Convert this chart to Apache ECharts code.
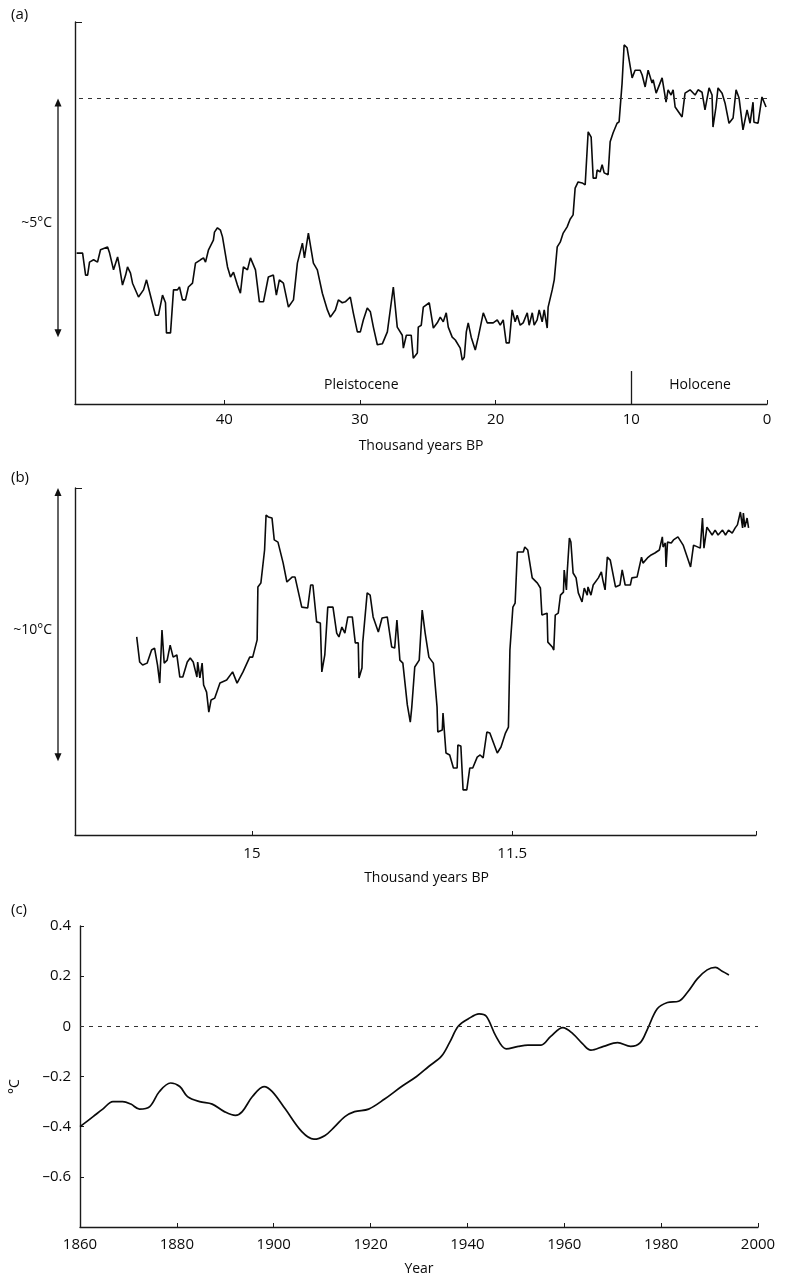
<!DOCTYPE html>
<html><head><meta charset="utf-8">
<script src="https://cdn.jsdelivr.net/npm/echarts@6/dist/echarts.min.js"></script>
<style>html,body{margin:0;padding:0;background:#fff}#c{width:787px;height:1277px}</style>
</head><body><div id="c"></div>
<script>
// ---------- Panel (a): last ~50 kyr (thousand years BP, relative temperature °C) ----------
const aKyr=[50.88,50.44,50.22,50.07,49.93,49.63,49.34,49.12,48.60,48.45,48.16,47.86,47.72,47.50,47.27,47.13,46.91,46.76,46.32,45.95,45.73,45.58,45.07,44.85,44.55,44.33,44.26,43.96,43.74,43.45,43.30,43.08,42.86,42.64,42.34,42.12,41.75,41.53,41.38,41.16,40.80,40.72,40.50,40.28,40.13,39.76,39.54,39.32,39.03,38.81,38.59,38.29,38.07,37.70,37.41,37.11,36.75,36.38,36.16,35.94,35.64,35.27,34.90,34.61,34.24,34.09,33.95,33.80,33.43,33.14,32.77,32.40,32.18,31.81,31.59,31.30,31.08,30.71,30.49,30.19,29.97,29.75,29.46,29.23,29.01,28.72,28.35,27.98,27.54,27.25,26.88,26.80,26.58,26.22,26.07,25.77,25.70,25.48,25.33,24.89,24.59,24.30,24.08,23.86,23.64,23.49,23.20,22.97,22.61,22.46,22.31,22.16,22.02,21.80,21.50,21.28,20.91,20.62,20.18,19.88,19.66,19.44,19.22,19.00,18.78,18.56,18.41,18.19,17.97,17.67,17.53,17.30,17.16,16.94,16.79,16.57,16.42,16.20,16.13,15.83,15.68,15.46,15.24,15.10,15.02,14.73,14.51,14.29,14.14,13.92,13.62,13.40,13.18,12.96,12.81,12.59,12.52,12.30,12.15,12.00,11.71,11.56,11.34,11.05,10.90,10.68,10.53,10.31,9.94,9.72,9.35,9.20,8.98,8.76,8.47,8.39,8.17,8.03,7.73,7.66,7.44,7.29,7.07,6.92,6.77,6.26,6.04,5.67,5.30,5.08,4.79,4.57,4.27,4.05,3.98,3.76,3.61,3.31,3.09,2.80,2.50,2.28,2.06,1.77,1.47,1.25,1.03,0.96,0.66,0.37,0.29,0.07];
const aTemp=[-3.24,-3.24,-3.70,-3.70,-3.43,-3.38,-3.43,-3.17,-3.11,-3.24,-3.59,-3.32,-3.53,-3.91,-3.70,-3.53,-3.66,-3.87,-4.16,-4.01,-3.80,-3.97,-4.54,-4.54,-4.12,-4.28,-4.91,-4.91,-4.01,-4.01,-3.95,-4.22,-4.22,-3.95,-3.87,-3.45,-3.38,-3.34,-3.43,-3.17,-2.97,-2.80,-2.71,-2.76,-2.90,-3.53,-3.74,-3.64,-3.91,-4.08,-3.53,-3.59,-3.34,-3.59,-4.26,-4.26,-3.74,-3.70,-4.12,-3.80,-3.87,-4.37,-4.22,-3.45,-3.03,-3.34,-3.38,-2.82,-3.45,-3.59,-4.08,-4.43,-4.58,-4.43,-4.22,-4.28,-4.26,-4.16,-4.49,-4.89,-4.89,-4.64,-4.39,-4.47,-4.79,-5.16,-5.14,-4.89,-3.95,-4.79,-4.96,-5.23,-4.96,-4.96,-5.44,-5.33,-4.79,-4.75,-4.37,-4.28,-4.81,-4.70,-4.58,-4.68,-4.49,-4.79,-5.00,-5.06,-5.23,-5.48,-5.42,-4.89,-4.70,-5.00,-5.27,-5.00,-4.49,-4.70,-4.70,-4.64,-4.75,-4.64,-5.12,-5.12,-4.43,-4.68,-4.54,-4.75,-4.70,-4.49,-4.75,-4.49,-4.75,-4.64,-4.43,-4.68,-4.43,-4.81,-4.37,-4.01,-3.80,-3.11,-3.01,-3.03,-2.82,-2.69,-2.53,-2.44,-1.88,-1.75,-1.77,-1.81,-0.70,-0.81,-1.67,-1.67,-1.50,-1.54,-1.39,-1.56,-1.60,-0.91,-0.72,-0.52,-0.49,0.32,1.12,1.06,0.43,0.59,0.59,0.49,0.24,0.59,0.32,0.39,0.11,0.11,0.43,0.39,-0.08,0.18,0.07,0.18,-0.18,-0.39,0.11,0.18,0.07,0.18,0.13,-0.24,0.22,0.07,-0.60,-0.18,0.22,0.11,-0.10,-0.52,-0.41,0.18,0.01,-0.66,-0.24,-0.52,-0.08,-0.50,-0.52,0.03,0.07,-0.18];
const aTicks=[0,10,20,30,40];

// ---------- Panel (b): deglaciation detail ----------
const bKyr=[16.55,16.51,16.47,16.41,16.35,16.31,16.27,16.24,16.21,16.18,16.14,16.10,16.06,16.01,15.97,15.93,15.87,15.83,15.79,15.74,15.73,15.70,15.67,15.65,15.61,15.58,15.55,15.50,15.43,15.34,15.26,15.20,15.12,15.03,14.99,14.93,14.92,14.88,14.83,14.81,14.78,14.73,14.70,14.65,14.58,14.53,14.46,14.42,14.33,14.25,14.21,14.18,14.13,14.08,14.06,14.02,13.98,13.91,13.86,13.83,13.79,13.75,13.71,13.65,13.61,13.57,13.56,13.52,13.51,13.45,13.41,13.37,13.30,13.25,13.18,13.12,13.08,13.05,13.01,12.97,12.91,12.87,12.85,12.81,12.75,12.71,12.67,12.62,12.56,12.51,12.50,12.44,12.43,12.39,12.34,12.29,12.24,12.23,12.19,12.16,12.11,12.07,12.03,11.97,11.93,11.89,11.84,11.80,11.70,11.65,11.59,11.55,11.53,11.49,11.46,11.43,11.35,11.33,11.29,11.23,11.16,11.12,11.10,11.03,11.02,10.96,10.94,10.92,10.88,10.85,10.81,10.80,10.77,10.76,10.73,10.71,10.68,10.64,10.61,10.56,10.53,10.49,10.48,10.44,10.41,10.34,10.30,10.28,10.25,10.22,10.18,10.11,10.05,10.02,9.98,9.91,9.89,9.82,9.76,9.74,9.68,9.63,9.58,9.52,9.48,9.47,9.44,9.43,9.41,9.36,9.33,9.27,9.20,9.10,9.06,8.97,8.94,8.92,8.88,8.81,8.77,8.73,8.67,8.63,8.59,8.54,8.50,8.47,8.43,8.40,8.39,8.37,8.34,8.32];
const bTemp=[-5.45,-6.37,-6.48,-6.41,-5.93,-5.86,-6.48,-7.14,-5.20,-6.41,-6.30,-5.75,-6.19,-6.11,-6.92,-6.92,-6.37,-6.22,-6.37,-6.92,-6.37,-6.95,-6.41,-7.21,-7.47,-8.20,-7.76,-7.69,-7.14,-7.03,-6.73,-7.14,-6.73,-6.19,-6.19,-5.56,-3.62,-3.48,-2.27,-0.99,-1.06,-1.10,-1.90,-1.98,-2.75,-3.44,-3.26,-3.26,-4.36,-4.39,-3.55,-3.55,-4.90,-4.94,-6.73,-6.11,-4.36,-4.36,-5.31,-5.45,-5.09,-5.31,-4.72,-4.72,-5.67,-5.67,-6.95,-6.59,-5.67,-3.84,-3.92,-4.72,-5.27,-4.76,-4.72,-5.82,-5.86,-4.83,-6.30,-6.41,-7.94,-8.57,-8.02,-6.55,-6.30,-4.47,-5.31,-6.19,-6.41,-8.02,-8.93,-8.86,-8.24,-9.70,-9.77,-10.25,-10.25,-9.41,-9.44,-11.05,-11.05,-10.25,-10.25,-9.85,-9.77,-9.88,-8.93,-8.97,-9.70,-9.48,-8.97,-8.75,-5.93,-4.36,-4.21,-2.34,-2.34,-2.16,-2.27,-3.29,-3.48,-3.66,-4.65,-4.58,-5.64,-5.82,-5.93,-4.65,-4.58,-3.92,-3.81,-3.00,-3.73,-3.11,-1.83,-1.98,-3.11,-3.29,-3.84,-4.17,-3.66,-3.92,-3.62,-3.92,-3.55,-3.29,-3.07,-3.37,-3.73,-2.53,-2.64,-3.62,-3.55,-3.00,-3.55,-3.55,-3.29,-3.26,-2.53,-2.75,-2.56,-2.45,-2.38,-2.27,-1.79,-2.16,-2.01,-2.89,-1.98,-2.01,-1.90,-1.79,-2.09,-2.89,-2.09,-2.20,-1.10,-2.20,-1.43,-1.72,-1.54,-1.72,-1.54,-1.72,-1.54,-1.65,-1.46,-1.35,-0.88,-1.46,-0.92,-1.43,-1.10,-1.46];
const bTicks=[15,11.5];

// ---------- Panel (c): instrumental record, °C anomaly ----------
const cYear=[1860,1862.7,1864.7,1866.8,1868.8,1870.5,1872.3,1874.4,1876.4,1878.7,1880.6,1882.2,1884.7,1887.3,1889.8,1892.1,1893.5,1895.6,1898.0,1899.7,1902.4,1905.8,1908.3,1910.6,1912.6,1914.7,1916.7,1919.6,1922.9,1926.4,1929.5,1932.0,1934.6,1936.3,1938.1,1940.2,1942.4,1943.9,1945.9,1948.0,1950.5,1952.5,1955.2,1957.2,1959.7,1961.8,1963.8,1965.5,1968.1,1971.0,1973.7,1975.7,1977.2,1979.2,1981.3,1983.6,1985.4,1987.5,1989.5,1991.2,1992.6,1994.0];
const cTemp=[-0.40,-0.36,-0.33,-0.30,-0.30,-0.31,-0.33,-0.32,-0.26,-0.226,-0.24,-0.28,-0.30,-0.31,-0.34,-0.355,-0.34,-0.28,-0.24,-0.26,-0.33,-0.42,-0.45,-0.435,-0.40,-0.36,-0.34,-0.33,-0.29,-0.24,-0.20,-0.16,-0.12,-0.065,0.00,0.03,0.05,0.04,-0.04,-0.09,-0.08,-0.075,-0.075,-0.04,-0.005,-0.03,-0.07,-0.095,-0.08,-0.065,-0.08,-0.065,-0.01,0.07,0.095,0.10,0.135,0.19,0.225,0.235,0.22,0.205];
const cYTicks=[-0.6,-0.4,-0.2,0,0.2,0.4];

const FONT='"Open Sans", "Noto Sans", sans-serif';
const INK='#0a0a0a';
const pair=(xs,ys)=>xs.map((x,i)=>[x,ys[i]]);
const aLine={show:true,onZero:false,lineStyle:{color:'#1a1a1a',width:1.4}};
const lbl=(extra)=>Object.assign({color:INK,fontFamily:FONT,fontSize:15},extra||{});

const chart=echarts.init(document.getElementById('c'),null,{renderer:'canvas'});
chart.setOption({
  animation:false,
  backgroundColor:'#fff',
  title:[
    {text:'(a)',left:11,top:7,padding:0,textStyle:{fontSize:15,fontWeight:'normal',color:INK,fontFamily:FONT}},
    {text:'(b)',left:11,top:470,padding:0,textStyle:{fontSize:15,fontWeight:'normal',color:INK,fontFamily:FONT}},
    {text:'(c)',left:11,top:902,padding:0,textStyle:{fontSize:15,fontWeight:'normal',color:INK,fontFamily:FONT}}
  ],
  grid:[
    {left:75,top:22,width:692,height:382},
    {left:75,top:488,width:681,height:347},
    {left:77,top:926,width:681,height:301}
  ],
  xAxis:[
    {gridIndex:0,type:'value',min:0,max:51,inverse:true,axisLine:aLine,
     axisTick:{show:true,inside:true,length:4,customValues:aTicks,lineStyle:{color:'#1a1a1a'}},
     axisLabel:lbl({margin:8,customValues:aTicks,formatter:v=>String(v)}),splitLine:{show:false},
     name:'Thousand years BP',nameLocation:'middle',nameGap:35,nameTextStyle:lbl({fontSize:14})},
    {gridIndex:1,type:'value',min:8.22,max:17.38,inverse:true,axisLine:aLine,
     axisTick:{show:true,inside:true,length:4,customValues:bTicks.concat([8.22]),lineStyle:{color:'#1a1a1a'}},
     axisLabel:lbl({margin:11,customValues:bTicks,formatter:v=>String(v)}),splitLine:{show:false},
     name:'Thousand years BP',nameLocation:'middle',nameGap:36,nameTextStyle:lbl({fontSize:14,padding:[0,0,0,22]})},
    {gridIndex:2,type:'value',min:1860,max:2000,interval:20,axisLine:aLine,
     axisTick:{show:true,inside:true,length:4,lineStyle:{color:'#1a1a1a'}},
     axisLabel:lbl({margin:10,formatter:v=>String(v)}),splitLine:{show:false},
     name:'Year',nameLocation:'middle',nameGap:35,nameTextStyle:lbl({fontSize:14})}
  ],
  yAxis:[
    {gridIndex:0,type:'value',min:-6.4,max:1.6,axisLine:aLine,
     axisTick:{show:true,inside:true,length:7,customValues:[1.6],lineStyle:{color:'#1a1a1a'}},
     axisLabel:{show:false},splitLine:{show:false}},
    {gridIndex:1,type:'value',min:-12.7,max:0,axisLine:aLine,
     axisTick:{show:true,inside:true,length:7,customValues:[0],lineStyle:{color:'#1a1a1a'}},
     axisLabel:{show:false},splitLine:{show:false}},
    {gridIndex:2,type:'value',min:-0.8,max:0.4,interval:0.2,axisLine:aLine,
     axisTick:{show:true,inside:true,length:4,customValues:cYTicks,lineStyle:{color:'#1a1a1a'}},
     axisLabel:lbl({margin:9,customValues:cYTicks,formatter:v=>{const r=Math.round(v*10)/10;return r<0?'\u2013'+Math.abs(r):String(r);}}),
     splitLine:{show:false},
     name:'°C',nameLocation:'middle',nameGap:58,nameRotate:90,nameTextStyle:lbl({fontSize:14,padding:[0,0,0,-20]})}
  ],
  series:[
    {type:'line',xAxisIndex:0,yAxisIndex:0,data:pair(aKyr,aTemp),showSymbol:false,
     lineStyle:{color:INK,width:1.6},
     markLine:{silent:true,symbol:['none','none'],label:{show:false},animation:false,
       data:[
         {yAxis:0,lineStyle:{type:[4,5],color:'#333',width:1.1}},
         [{coord:[10,-5.71],lineStyle:{type:'solid',color:'#1a1a1a',width:1.3}},{coord:[10,-6.4]}]
       ]},
     markPoint:{silent:true,symbol:'circle',symbolSize:1,itemStyle:{color:'rgba(0,0,0,0)'},
       label:{show:true,position:'inside',formatter:p=>p.name,color:INK,fontFamily:FONT,fontSize:14},
       data:[{name:'Pleistocene',coord:[29.9,-6.01]},{name:'Holocene',coord:[4.93,-6.01]}]}
    },
    {type:'line',xAxisIndex:1,yAxisIndex:1,data:pair(bKyr,bTemp),showSymbol:false,
     lineStyle:{color:INK,width:1.6}},
    {type:'line',xAxisIndex:2,yAxisIndex:2,data:pair(cYear,cTemp),showSymbol:false,smooth:0.35,
     lineStyle:{color:INK,width:1.7},
     markLine:{silent:true,symbol:['none','none'],label:{show:false},animation:false,
       data:[{yAxis:0,lineStyle:{type:[4,5],color:'#333',width:1.1}}]}
    }
  ]
});

// Scale arrows (~5°C, ~10°C) placed from the axes' own scales
function arrow(gridIndex, xVal, yTop, yBot, text){
  const pT=chart.convertToPixel({gridIndex},[xVal,yTop]);
  const pB=chart.convertToPixel({gridIndex},[xVal,yBot]);
  const x=pT[0]-17, t=pT[1], b=pB[1], mid=(t+b)/2;
  return [
    {type:'line',shape:{x1:x,y1:t+6,x2:x,y2:b-6},style:{stroke:'#111',lineWidth:1.3},silent:true},
    {type:'polygon',shape:{points:[[x,t],[x-3.5,t+8],[x+3.5,t+8]]},style:{fill:'#111'},silent:true},
    {type:'polygon',shape:{points:[[x,b],[x-3.5,b-8],[x+3.5,b-8]]},style:{fill:'#111'},silent:true},
    {type:'text',x:x-6,y:mid+5,style:{text:text,fill:INK,font:'14px '+FONT,textAlign:'right',textVerticalAlign:'middle'},silent:true}
  ];
}
chart.setOption({graphic:[].concat(arrow(0,51,0,-5,'~5°C'),arrow(1,17.38,0,-10,'~10°C'))});
</script>
</body></html>
